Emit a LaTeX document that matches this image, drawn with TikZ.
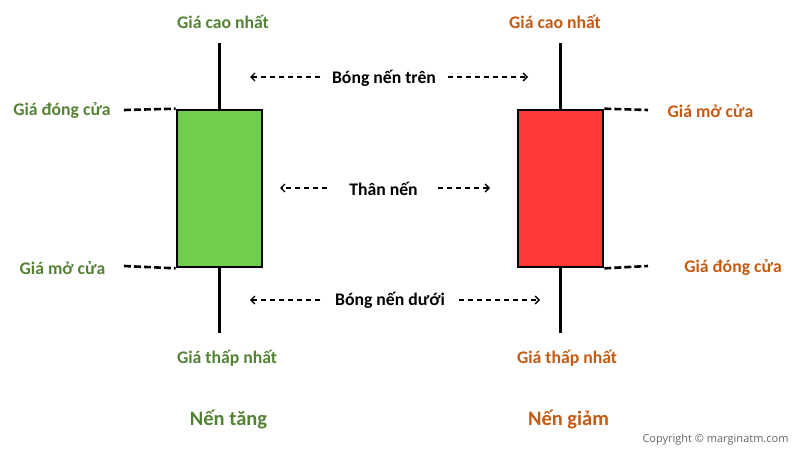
\documentclass[tikz,border=0pt]{standalone}
\usepackage{fontspec}
\setmainfont{Carlito}
\newfontfamily\copyfont{Open Sans}
\usetikzlibrary{arrows.meta}
\definecolor{gtext}{RGB}{84,130,53}
\definecolor{otext}{RGB}{197,90,17}
\definecolor{gfill}{RGB}{112,206,76}
\definecolor{rfill}{RGB}{255,57,57}
\tikzset{
  lbl/.style={font=\bfseries\fontsize{17.7}{20}\selectfont, inner sep=0pt},
  glbl/.style={lbl, text=gtext},
  olbl/.style={lbl, text=otext},
  blbl/.style={lbl, text=black},
  ttl/.style={font=\bfseries\fontsize{20.5}{24}\selectfont, inner sep=0pt},
  wick/.style={line width=3pt},
  body/.style={draw=black, line width=2.6pt},
  lev/.style={line width=2.6pt, dash pattern=on 7pt off 3pt},
  harrow/.style={line width=1.3pt, dash pattern=on 5pt off 4pt, -{Straight Barb[length=4pt,width=8pt]}},
}
\begin{document}
\begin{tikzpicture}[x=1pt,y=-1pt]
\useasboundingbox (0,0) rectangle (800,450);
% green candle
\coordinate (gwt) at (219,43);
\coordinate (gwb) at (219,333);
\draw[wick] (gwt) -- (gwb);
\node[body, fill=gfill, minimum width=85pt, minimum height=157pt, inner sep=0pt] (gbody) at (219.5,188.5) {};
% red candle
\coordinate (rwt) at (560,43);
\coordinate (rwb) at (560,333);
\draw[wick] (rwt) -- (rwb);
\node[body, fill=rfill, minimum width=85pt, minimum height=157pt, inner sep=0pt] (rbody) at (560.5,188.5) {};
% green labels
\node[glbl] (ghigh) at (223,22) {Giá cao nhất};
\node[glbl] (gclose) at (62,111) {Giá đóng cửa};
\node[glbl] (gopen) at (62.5,268) {Giá mở cửa};
\node[glbl] (glow) at (227,358) {Giá thấp nhất};
\node[ttl, text=gtext] (gtitle) at (228.5,420) {Nến tăng};
% red labels
\node[olbl] (rhigh) at (555,22) {Giá cao nhất};
\node[olbl] (ropen) at (710.5,111) {Giá mở cửa};
\node[olbl] (rclose) at (733,268) {Giá đóng cửa};
\node[olbl] (rlow) at (567,358) {Giá thấp nhất};
\node[ttl, text=otext] (rtitle) at (568.5,420) {Nến giảm};
% level dashes
\coordinate (gcl) at (124,110);
\coordinate (gol) at (124,266);
\draw[lev] (gcl) -- (gbody.north west);
\draw[lev] (gol) -- (gbody.south west);
\coordinate (rol) at (648,110);
\coordinate (rcl) at (648,266);
\draw[lev] (rbody.north east) -- (rol);
\draw[lev] (rbody.south east) -- (rcl);
% middle labels and arrows
\node[blbl] (upper) at (384,78) {Bóng nến trên};
\node[blbl] (bodyl) at (383.5,189) {Thân nến};
\node[blbl] (lower) at (390,300) {Bóng nến dưới};
\coordinate (u1) at (320,77); \coordinate (u1e) at (250,77);
\coordinate (u2) at (448,77); \coordinate (u2e) at (528,77);
\coordinate (b1) at (327,188); \coordinate (b1e) at (280,188);
\coordinate (b2) at (438,188); \coordinate (b2e) at (490,188);
\coordinate (l1) at (320,300); \coordinate (l1e) at (250,300);
\coordinate (l2) at (459,300); \coordinate (l2e) at (540,300);
\draw[harrow] (u1) -- (u1e);
\draw[harrow] (u2) -- (u2e);
\draw[harrow] (b1) -- (b1e);
\draw[harrow] (b2) -- (b2e);
\draw[harrow] (l1) -- (l1e);
\draw[harrow] (l2) -- (l2e);
% copyright
\node[font=\copyfont\fontsize{11}{13}\selectfont, text=black!60, inner sep=0pt] (copy) at (715.5,440) {Copyright © marginatm.com};
\end{tikzpicture}
\end{document}
